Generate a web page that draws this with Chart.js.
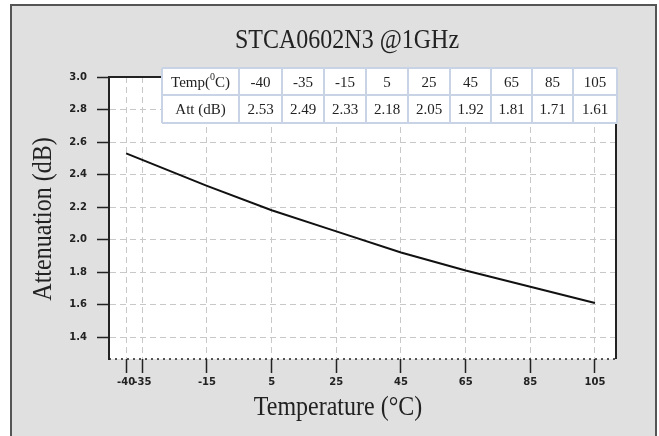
<!DOCTYPE html>
<html>
<head>
<meta charset="utf-8">
<script src="https://cdn.jsdelivr.net/npm/chart.js@4.4.0/dist/chart.umd.min.js"></script>
<style>
  html, body { margin: 0; padding: 0; background: #fff; }
</style>
</head>
<body>
<canvas id="grafico" width="659" height="436"></canvas>
<script>
const tempC = [-40, -35, -15, 5, 25, 45, 65, 85, 105];
const attDb = [2.53, 2.49, 2.33, 2.18, 2.05, 1.92, 1.81, 1.71, 1.61];
const yTicks = [1.4, 1.6, 1.8, 2.0, 2.2, 2.4, 2.6, 2.8, 3.0];
const xTicks = [-40, -35, -15, 5, 25, 45, 65, 85, 105];

const titulo = 'STCA0602N3 @1GHz';
const tituloX = 'Temperature (°C)';
const tituloY = 'Attenuation (dB)';

const serif = '"Liberation Serif", "Times New Roman", serif';

// texto un poco estirado en vertical, como en la imagen original
function texto(ctx, s, x, y, size, rot) {
    ctx.save();
    ctx.translate(x, y);
    if (rot) ctx.rotate(rot);
    ctx.scale(1, 1.12);
    ctx.font = size + 'px ' + serif;
    ctx.textAlign = 'center';
    ctx.textBaseline = 'middle';
    ctx.fillText(s, 0, 0);
    ctx.restore();
}

const marco = {
    id: 'marco',
    beforeDraw(chart) {
        const { ctx, chartArea: a } = chart;
        ctx.save();
        ctx.fillStyle = '#fff';
        ctx.fillRect(0, 0, chart.width, chart.height);
        ctx.fillStyle = '#e0e0e0';
        ctx.fillRect(11, 5, 645, 440);
        ctx.strokeStyle = '#555';
        ctx.lineWidth = 2;
        ctx.strokeRect(11, 5, 645, 440);
        ctx.fillStyle = '#fff';
        ctx.fillRect(a.left, a.top, a.right - a.left, a.bottom - a.top);
        ctx.restore();
    },
    afterDatasetsDraw(chart) {
        const { ctx, chartArea: a } = chart;
        ctx.save();
        ctx.strokeStyle = '#222';
        ctx.lineWidth = 2;
        ctx.beginPath();
        ctx.moveTo(a.left, a.top);
        ctx.lineTo(a.right, a.top);
        ctx.lineTo(a.right, a.bottom);
        ctx.stroke();
        // borde inferior punteado
        ctx.setLineDash([2, 4]);
        ctx.lineWidth = 1.5;
        ctx.beginPath();
        ctx.moveTo(a.left, a.bottom);
        ctx.lineTo(a.right, a.bottom);
        ctx.stroke();
        ctx.restore();
    },
    afterDraw(chart) {
        const { ctx } = chart;
        ctx.save();
        ctx.fillStyle = '#222';
        texto(ctx, titulo, 347, 41, 24);
        texto(ctx, tituloX, 338, 408, 24);
        texto(ctx, tituloY, 44, 219, 24, -Math.PI / 2);

        // tabla de datos
        const cols = [162, 239, 282, 324, 366, 408, 450, 491, 532, 573, 617];
        const rows = [68, 95, 123];
        ctx.fillStyle = '#fff';
        ctx.fillRect(cols[0], rows[0], cols[cols.length - 1] - cols[0], rows[2] - rows[0]);
        ctx.strokeStyle = '#c9d3e6';
        ctx.lineWidth = 2;
        cols.forEach(x => { ctx.beginPath(); ctx.moveTo(x, rows[0]); ctx.lineTo(x, rows[2]); ctx.stroke(); });
        rows.forEach(y => { ctx.beginPath(); ctx.moveTo(cols[0], y); ctx.lineTo(cols[cols.length - 1], y); ctx.stroke(); });

        ctx.fillStyle = '#222';
        ctx.textBaseline = 'middle';
        const m1 = (rows[0] + rows[1]) / 2 + 1.5;
        const m2 = (rows[1] + rows[2]) / 2 + 1.5;
        const cx = (cols[0] + cols[1]) / 2;
        // Temp(⁰C) con el 0 elevado
        ctx.textAlign = 'left';
        const a1 = 'Temp(', a2 = 'C)';
        ctx.font = '15px ' + serif;
        const w1 = ctx.measureText(a1).width, w2 = ctx.measureText(a2).width;
        ctx.font = '10px ' + serif;
        const ws = ctx.measureText('0').width;
        const x0 = cx - (w1 + ws + w2) / 2;
        ctx.font = '15px ' + serif;
        ctx.fillText(a1, x0, m1);
        ctx.font = '10px ' + serif;
        ctx.fillText('0', x0 + w1, m1 - 6);
        ctx.font = '15px ' + serif;
        ctx.fillText(a2, x0 + w1 + ws, m1);
        ctx.textAlign = 'center';
        ctx.fillText('Att (dB)', cx, m2);
        tempC.forEach((t, i) => {
            const c = (cols[i + 1] + cols[i + 2]) / 2;
            ctx.fillText(String(t), c, m1);
            ctx.fillText(attDb[i].toFixed(2), c, m2);
        });
        ctx.restore();
    }
};

const ctx = document.getElementById('grafico').getContext('2d');
const config = {
    type: 'line',
    data: {
        datasets: [{
            label: 'Att (dB)',
            data: tempC.map((t, i) => ({ x: t, y: attDb[i] })),
            borderColor: '#111',
            borderWidth: 2,
            pointRadius: 0,
            fill: false,
            tension: 0
        }]
    },
    options: {
        responsive: false,
        animation: false,
        devicePixelRatio: 1,
        layout: { padding: { left: 0, right: 43, top: 77, bottom: 0 } },
        plugins: {
            legend: { display: false },
            tooltip: { enabled: false }
        },
        scales: {
            x: {
                type: 'linear',
                min: -45.3,
                max: 111.5,
                afterBuildTicks: s => { s.ticks = xTicks.map(v => ({ value: v })); },
                afterFit: s => { s.height = 77; },
                grid: { color: '#c8c8c8', lineWidth: 1, tickColor: '#222', tickLength: 14, tickWidth: 1.5 },
                border: { display: false, dash: [6, 4] },
                ticks: {
                    color: '#222',
                    font: { family: '"DejaVu Sans", sans-serif', size: 10, weight: 'bold' },
                    padding: 3,
                    maxRotation: 0,
                    autoSkip: false,
                    callback: v => String(v)
                }
            },
            y: {
                min: 1.265,
                max: 3.0,
                afterBuildTicks: s => { s.ticks = yTicks.map(v => ({ value: v })); },
                afterFit: s => { s.width = 109; },
                grid: { color: '#c8c8c8', lineWidth: 1, tickColor: '#222', tickLength: 12, tickWidth: 1.5 },
                border: { display: true, color: '#222', width: 2, dash: [6, 4] },
                ticks: {
                    color: '#222',
                    font: { family: '"DejaVu Sans", sans-serif', size: 10, weight: 'bold' },
                    padding: 10,
                    callback: v => v.toFixed(1)
                }
            }
        }
    },
    plugins: [marco]
};
new Chart(ctx, config);
</script>
</body>
</html>
